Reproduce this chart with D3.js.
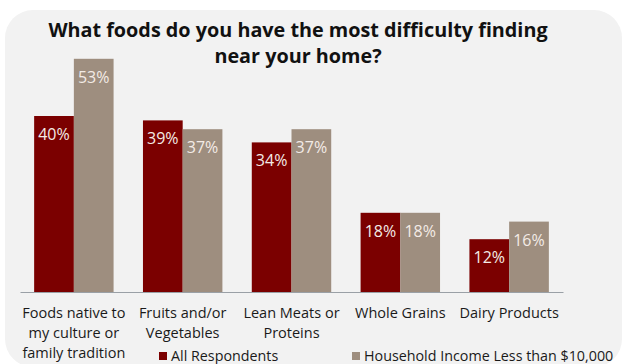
<!DOCTYPE html>
<html>
<head>
<meta charset="utf-8">
<script src="https://cdn.jsdelivr.net/npm/d3@7"></script>
<style>
  html, body { margin: 0; padding: 0; background: #ffffff; }
  svg { display: block; font-family: "Open Sans", Lato, sans-serif; }
</style>
</head>
<body>
<div id="chart"></div>
<script>
/* DATA */
const categories = [
  ["Foods native to", "my culture or", "family tradition"],
  ["Fruits and/or", "Vegetables"],
  ["Lean Meats or", "Proteins"],
  ["Whole Grains"],
  ["Dairy Products"]
];
const seriesNames = ["All Respondents", "Household Income Less than $10,000"];
const allRespondents = [40, 39, 34, 18, 12];
const lowIncome = [53, 37, 37, 18, 16];
const titleLines = ["What foods do you have the most difficulty finding", "near your home?"];

/* CONSTANTS */
const width = 623, height = 364;
const colors = ["#7b0000", "#9e8e7f"];
const baseY = 292;

const svg = d3.select("#chart").append("svg")
  .attr("width", width)
  .attr("height", height);

// panel background
svg.append("rect")
  .attr("x", 5).attr("y", 10)
  .attr("width", 617).attr("height", 357)
  .attr("rx", 28).attr("ry", 28)
  .attr("fill", "#f2f2f2");

// + SCALES
const catKeys = categories.map((d, i) => i);
const xScale = d3.scaleBand()
  .domain(catKeys)
  .range([20, 563])
  .paddingInner(0.27)
  .paddingOuter(0.13);

const xSub = d3.scaleBand()
  .domain([0, 1])
  .range([0, xScale.bandwidth()]);

const yScale = d3.scaleLinear()
  .domain([0, 60])
  .range([baseY, 28]);

// title
svg.append("text")
  .attr("x", 298)
  .attr("y", 37)
  .attr("text-anchor", "middle")
  .attr("font-size", 19.8)
  .attr("font-weight", "bold")
  .attr("fill", "#111")
  .selectAll("tspan")
  .data(titleLines)
  .join("tspan")
  .attr("x", 298)
  .attr("dy", (d, i) => i === 0 ? 0 : 26)
  .text(d => d);

// + BARS
const rows = catKeys.map(i => ({ i, vals: [allRespondents[i], lowIncome[i]] }));

const groups = svg.selectAll("g.group")
  .data(rows)
  .join("g")
  .attr("class", "group")
  .attr("transform", d => `translate(${xScale(d.i)},0)`);

groups.selectAll("rect")
  .data(d => d.vals.map((v, s) => ({ v, s })))
  .join("rect")
  .attr("x", d => xSub(d.s))
  .attr("y", d => yScale(d.v))
  .attr("width", xSub.bandwidth())
  .attr("height", d => baseY - yScale(d.v))
  .attr("fill", d => colors[d.s]);

groups.selectAll("text.val")
  .data(d => d.vals.map((v, s) => ({ v, s })))
  .join("text")
  .attr("class", "val")
  .attr("x", d => xSub(d.s) + xSub.bandwidth() / 2)
  .attr("y", d => yScale(d.v) + 24)
  .attr("text-anchor", "middle")
  .attr("font-size", 16)
  .attr("fill", "#f3ebe6")
  .text(d => d.v + "%");

// + AXIS
const xAxis = d3.axisBottom(xScale).tickSize(0).tickFormat("");
const xAxisGroup = svg.append("g")
  .attr("transform", `translate(0,${baseY})`)
  .call(xAxis);
xAxisGroup.select(".domain").attr("stroke", "#9aa0a6").attr("stroke-width", 1.2);

// category labels
svg.selectAll("text.cat")
  .data(rows)
  .join("text")
  .attr("class", "cat")
  .attr("text-anchor", "middle")
  .attr("font-size", 14.5)
  .attr("fill", "#1a1a1a")
  .each(function (d) {
    const cx = xScale(d.i) + xScale.bandwidth() / 2;
    d3.select(this).selectAll("tspan")
      .data(categories[d.i])
      .join("tspan")
      .attr("x", cx)
      .attr("y", (t, k) => 318 + k * 20)
      .text(t => t);
  });

// + LEGEND
const legendX = [159, 352];
const legend = svg.selectAll("g.legend")
  .data(seriesNames)
  .join("g")
  .attr("class", "legend")
  .attr("transform", (d, i) => `translate(${legendX[i]},361)`);

legend.append("rect")
  .attr("x", 0).attr("y", -9)
  .attr("width", 8).attr("height", 8)
  .attr("fill", (d, i) => colors[i]);

legend.append("text")
  .attr("x", 12)
  .attr("y", 0)
  .attr("font-size", 14.3)
  .attr("fill", "#1a1a1a")
  .text(d => d);
</script>
</body>
</html>
